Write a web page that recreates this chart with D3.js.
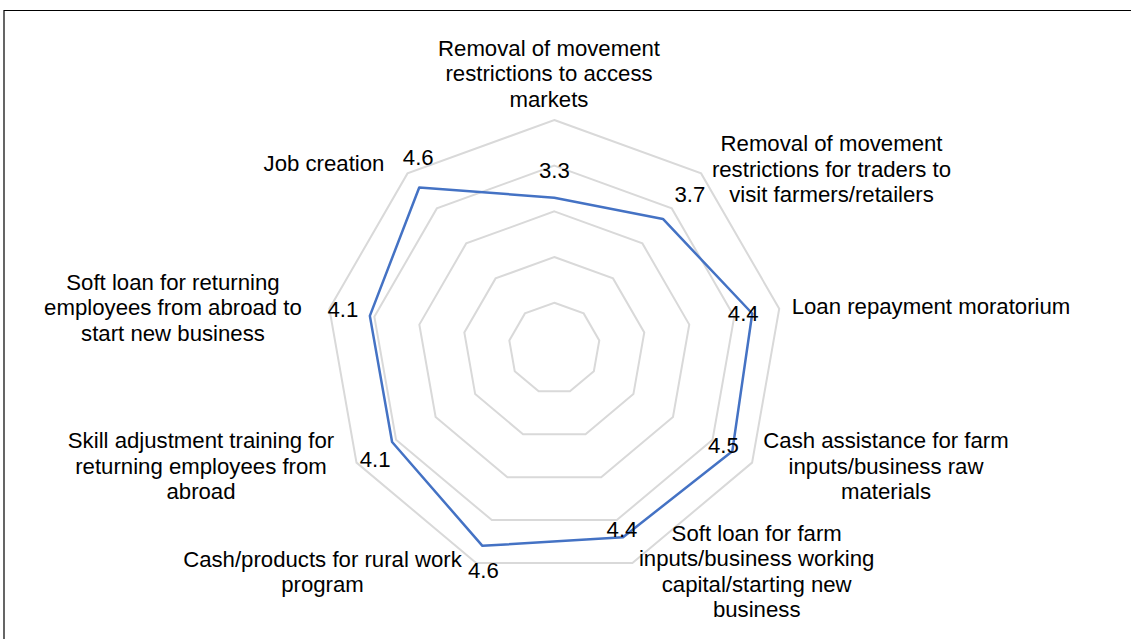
<!DOCTYPE html>
<html>
<head>
<meta charset="utf-8">
<script src="https://cdn.jsdelivr.net/npm/d3@7"></script>
<style>
  html, body { margin: 0; padding: 0; background: #fff; }
  svg { display: block; }
  text { font-family: "Liberation Sans", Arial, sans-serif; fill: #000; }
</style>
</head>
<body>
<svg id="chart" width="1131" height="639"></svg>
<script>
// ---- Data ----
const categories = [
  "Removal of movement restrictions to access markets",
  "Removal of movement restrictions for traders to visit farmers/retailers",
  "Loan repayment moratorium",
  "Cash assistance for farm inputs/business raw materials",
  "Soft loan for farm inputs/business working capital/starting new business",
  "Cash/products for rural work program",
  "Skill adjustment training for returning employees from abroad",
  "Soft loan for returning employees from abroad to start new business",
  "Job creation"
];
const categoryLines = [
  ["Removal of movement", "restrictions to access", "markets"],
  ["Removal of movement", "restrictions for traders to", "visit farmers/retailers"],
  ["Loan repayment moratorium"],
  ["Cash assistance for farm", "inputs/business raw", "materials"],
  ["Soft loan for farm", "inputs/business working", "capital/starting new", "business"],
  ["Cash/products for rural work", "program"],
  ["Skill adjustment training for", "returning employees from", "abroad"],
  ["Soft loan for returning", "employees from abroad to", "start new business"],
  ["Job creation"]
];
const values = [3.3, 3.7, 4.4, 4.5, 4.4, 4.6, 4.1, 4.1, 4.6];
const ringTicks = [1, 2, 3, 4, 5];

// ---- Layout (styling/positions only) ----
const cx = 554.3, cy = 348.4, R = 228.4;
const fontSize = 22.2, lineH = 25.5;
// category label anchors: center x, first baseline y
const catLabelPos = [
  [549, 55.5], [831.5, 151], [931, 314.3], [886, 448], [756.7, 540.5],
  [322.5, 566.5], [201, 448], [173, 289.5], [324, 170.5]
];
// data label offsets from the vertex (dx, baseline dy)
const dataLabelOffset = [
  [0, -19.4], [27, -17], [-9, 7], [-9, 1.5], [-1, 0],
  [1, 32.5], [-17, 25], [-27, 1], [-1, -22]
];

const svg = d3.select("#chart");
const n = categories.length;
const angle = d3.scaleLinear().domain([0, n]).range([0, 2 * Math.PI]);
const r = d3.scaleLinear().domain([0, 5]).range([0, R]);

// border (frame of the chart area)
svg.append("path")
  .attr("d", `M4,639 L4,10.5 L1131,10.5`)
  .attr("fill", "none").attr("stroke", "#000").attr("stroke-width", 1.2);

const g = svg.append("g").attr("transform", `translate(${cx},${cy})`);

// grid rings
const ringLine = d3.lineRadial()
  .angle((d, i) => angle(i))
  .radius(d => r(d))
  .curve(d3.curveLinearClosed);

g.selectAll("path.ring")
  .data(ringTicks)
  .join("path")
  .attr("class", "ring")
  .attr("d", t => ringLine(d3.range(n).map(() => t)))
  .attr("fill", "none")
  .attr("stroke", "#d9d9d9")
  .attr("stroke-width", 2);

// series
g.append("path")
  .datum(values)
  .attr("d", ringLine.radius(d => r(d)))
  .attr("fill", "none")
  .attr("stroke", "#4472c4")
  .attr("stroke-width", 2.5)
  .attr("stroke-linejoin", "round");

// data labels
const vx = (v, i) => r(v) * Math.sin(angle(i));
const vy = (v, i) => -r(v) * Math.cos(angle(i));
g.selectAll("text.dl")
  .data(values)
  .join("text")
  .attr("class", "dl")
  .attr("x", (v, i) => vx(v, i) + dataLabelOffset[i][0])
  .attr("y", (v, i) => vy(v, i) + dataLabelOffset[i][1])
  .attr("text-anchor", "middle")
  .style("font-size", fontSize + "px")
  .text(v => d3.format(".1f")(v));

// category labels
const cl = svg.selectAll("text.cat")
  .data(categoryLines)
  .join("text")
  .attr("class", "cat")
  .attr("text-anchor", "middle")
  .style("font-size", fontSize + "px")
  .attr("x", (d, i) => catLabelPos[i][0])
  .attr("y", (d, i) => catLabelPos[i][1]);
cl.each(function(lines, i) {
  d3.select(this).selectAll("tspan")
    .data(lines)
    .join("tspan")
    .attr("x", catLabelPos[i][0])
    .attr("y", (l, j) => catLabelPos[i][1] + j * lineH)
    .text(l => l);
});
</script>
</body>
</html>
